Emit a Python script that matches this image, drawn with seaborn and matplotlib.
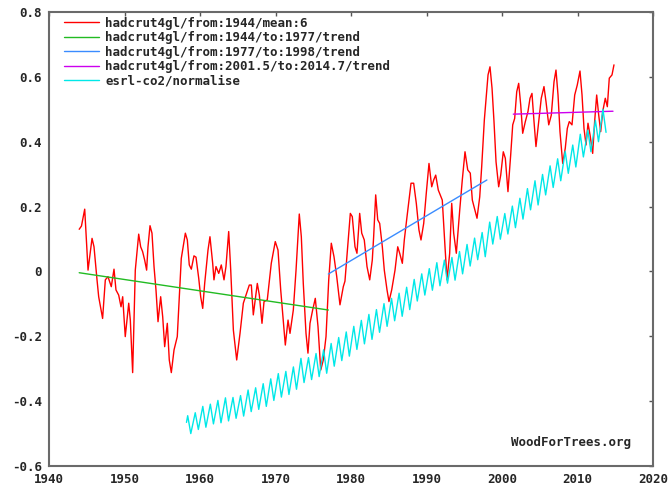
import matplotlib
matplotlib.use("Agg")
import matplotlib.pyplot as plt
import pandas as pd
import seaborn as sns

# hadcrut4gl/from:1944/mean:6 -- turning points
hadcrut_year = [
    1944.0, 1944.3, 1944.73, 1945.17, 1945.7, 1945.96, 1946.36, 1946.58, 1947.1, 1947.46,
    1947.81, 1948.25, 1948.61, 1948.87, 1949.23, 1949.54, 1949.76, 1950.1, 1950.56, 1950.77,
    1951.08, 1951.43, 1951.88, 1952.14, 1952.4, 1952.67, 1952.93, 1953.11, 1953.38, 1953.64,
    1953.91, 1954.17, 1954.44, 1954.79, 1955.06, 1955.32, 1955.67, 1955.93, 1956.2, 1956.56,
    1956.99, 1957.26, 1957.52, 1958.06, 1958.32, 1958.58, 1958.85, 1959.2, 1959.47, 1959.83,
    1960.09, 1960.36, 1960.62, 1961.06, 1961.32, 1961.68, 1961.85, 1962.12, 1962.48, 1962.82,
    1963.18, 1963.44, 1963.8, 1964.07, 1964.42, 1964.86, 1965.3, 1965.74, 1966.09, 1966.53,
    1966.8, 1967.06, 1967.59, 1967.86, 1968.21, 1968.48, 1968.91, 1969.44, 1969.97, 1970.33,
    1970.69, 1971.03, 1971.3, 1971.66, 1971.92, 1972.36, 1972.72, 1973.15, 1973.42, 1973.68,
    1974.04, 1974.3, 1974.57, 1974.92, 1975.27, 1975.63, 1975.99, 1976.33, 1976.69, 1977.05,
    1977.39, 1977.75, 1978.11, 1978.54, 1978.98, 1979.2, 1979.5, 1979.91, 1980.17, 1980.53,
    1980.79, 1981.15, 1981.42, 1981.76, 1982.12, 1982.48, 1982.82, 1983.0, 1983.27, 1983.54,
    1983.8, 1984.15, 1984.41, 1984.77, 1985.03, 1985.39, 1985.83, 1986.19, 1986.45, 1986.8,
    1987.06, 1987.42, 1987.95, 1988.3, 1988.65, 1989.0, 1989.27, 1989.63, 1989.97, 1990.33,
    1990.69, 1990.95, 1991.22, 1991.56, 1992.09, 1992.45, 1992.72, 1993.07, 1993.34, 1993.6,
    1993.95, 1994.4, 1994.74, 1995.1, 1995.46, 1995.8, 1996.07, 1996.42, 1996.69, 1997.05,
    1997.31, 1997.66, 1998.15, 1998.41, 1998.68, 1998.94, 1999.21, 1999.56, 1999.83, 2000.17,
    2000.44, 2000.79, 2001.15, 2001.42, 2001.68, 2001.95, 2002.21, 2002.48, 2002.74, 2003.09,
    2003.44, 2003.71, 2003.97, 2004.24, 2004.5, 2004.86, 2005.2, 2005.56, 2005.83, 2006.19,
    2006.53, 2006.89, 2007.15, 2007.42, 2007.68, 2008.04, 2008.38, 2008.65, 2008.91, 2009.27,
    2009.63, 2009.97, 2010.33, 2010.6, 2010.86, 2011.13, 2011.39, 2011.66, 2012.01, 2012.27,
    2012.54, 2012.81, 2013.07, 2013.34, 2013.68, 2013.95, 2014.21, 2014.57, 2014.83,
]
hadcrut_anom = [
    0.13, 0.14, 0.192, 0.004, 0.102, 0.076, -0.026, -0.078, -0.145, -0.026,
    -0.016, -0.047, 0.007, -0.057, -0.073, -0.109, -0.078, -0.201, -0.098, -0.15,
    -0.312, 0.004, 0.115, 0.076, 0.061, 0.035, 0.004, 0.076, 0.141, 0.118,
    0.015, -0.057, -0.155, -0.078, -0.14, -0.232, -0.16, -0.273, -0.312, -0.242,
    -0.201, -0.078, 0.04, 0.118, 0.097, 0.02, 0.007, 0.048, 0.044, -0.021,
    -0.078, -0.114, -0.037, 0.066, 0.107, 0.025, -0.026, 0.015, -0.006, 0.02,
    -0.026, 0.015, 0.123, 0.004, -0.181, -0.273, -0.191, -0.098, -0.073, -0.042,
    -0.042, -0.134, -0.037, -0.073, -0.16, -0.093, -0.088, 0.025, 0.092, 0.066,
    -0.057, -0.15, -0.227, -0.15, -0.191, -0.119, 0.004, 0.177, 0.107, -0.037,
    -0.191, -0.252, -0.16, -0.119, -0.083, -0.17, -0.304, -0.273, -0.201, -0.026,
    0.087, 0.045, -0.016, -0.103, -0.047, -0.03, 0.06, 0.179, 0.169, 0.076,
    0.056, 0.179, 0.118, 0.097, 0.015, -0.026, 0.035, 0.107, 0.236, 0.159,
    0.148, 0.076, 0.004, -0.057, -0.093, -0.057, 0.004, 0.076, 0.056, 0.025,
    0.097, 0.169, 0.272, 0.272, 0.21, 0.128, 0.097, 0.148, 0.241, 0.333,
    0.261, 0.282, 0.297, 0.251, 0.22, 0.076, -0.026, 0.056, 0.21, 0.118,
    0.056, 0.189, 0.282, 0.369, 0.313, 0.303, 0.22, 0.189, 0.164, 0.23,
    0.323, 0.467, 0.606, 0.631, 0.565, 0.462, 0.338, 0.261, 0.297, 0.369,
    0.349, 0.246, 0.359, 0.452, 0.472, 0.554, 0.58, 0.513, 0.426, 0.462,
    0.493, 0.534, 0.549, 0.462, 0.385, 0.462, 0.534, 0.57, 0.523, 0.452,
    0.482, 0.585, 0.621, 0.544, 0.431, 0.333, 0.38, 0.441, 0.462, 0.452,
    0.544, 0.575, 0.618, 0.544, 0.441, 0.39, 0.457, 0.421, 0.364, 0.462,
    0.544, 0.482, 0.431, 0.493, 0.534, 0.508, 0.596, 0.606, 0.637,
]

# trend segments (start year, end year, start value, end value)
trend_labels = [
    "hadcrut4gl/from:1944/to:1977/trend",
    "hadcrut4gl/from:1977/to:1998/trend",
    "hadcrut4gl/from:2001.5/to:2014.7/trend",
]
trend_x0 = [1944.0, 1977.0, 2001.5]
trend_x1 = [1977.0, 1998.0, 2014.7]
trend_y0 = [-0.004, -0.008, 0.485]
trend_y1 = [-0.119, 0.282, 0.494]
trend_colors = ["#22bb22", "#3a8cff", "#cc00ee"]

# esrl-co2 (ppm): first point, then yearly May peaks and autumn troughs
co2_years = list(range(1958, 2014))
co2_start = (1958.21, 315.7)
co2_may = [
    317.5, 318.3, 320.0, 320.6, 321.6, 322.3, 322.4, 322.9, 324.4, 325.0,
    326.1, 327.4, 328.8, 329.4, 330.6, 332.9, 333.1, 334.2, 335.2, 336.9,
    338.5, 340.0, 341.5, 343.1, 344.7, 346.0, 347.6, 349.0, 350.4, 352.0,
    354.1, 355.6, 357.0, 358.6, 359.3, 360.0, 361.6, 363.5, 365.2, 366.7,
    369.5, 371.0, 371.8, 373.8, 375.9, 378.5, 380.6, 382.3, 384.6, 386.5,
    388.5, 390.2, 393.1, 394.2, 396.8, 399.8,
]
co2_oct = [
    312.7, 313.8, 314.4, 315.3, 315.6, 316.1, 316.8, 317.4, 318.6, 319.2,
    320.0, 321.6, 322.5, 323.2, 324.6, 326.4, 327.2, 328.0, 328.9, 330.8,
    332.3, 333.5, 335.3, 336.8, 338.0, 339.9, 341.5, 343.0, 344.2, 346.0,
    348.3, 349.9, 351.2, 352.4, 353.1, 353.9, 355.6, 357.7, 359.4, 360.2,
    363.6, 364.9, 366.3, 368.0, 370.3, 372.8, 374.1, 376.8, 378.8, 380.6,
    382.6, 384.3, 387.0, 388.4, 391.1, 393.6,
]

x_ticks = [1940, 1950, 1960, 1970, 1980, 1990, 2000, 2010, 2020]
y_ticks = [-0.6, -0.4, -0.2, 0.0, 0.2, 0.4, 0.6, 0.8]
y_tick_labels = ["-0.6", "-0.4", "-0.2", "0", "0.2", "0.4", "0.6", "0.8"]

# build co2 zig-zag and normalise to -0.5..0.5
co2_t = [co2_start[0]]
co2_v = [co2_start[1]]
for yr, hi, lo in zip(co2_years, co2_may, co2_oct):
    co2_t += [yr + 0.37, yr + 0.78]
    co2_v += [hi, lo]
lo_v, hi_v = min(co2_v), max(co2_v)
co2_norm = [(v - lo_v) / (hi_v - lo_v) - 0.5 for v in co2_v]

sns.set_style("white")
plt.rcParams["font.family"] = ["DejaVu Sans Mono"]
plt.rcParams["font.weight"] = "bold"

fig = plt.figure(figsize=(6.7, 4.88), dpi=100)
ax = fig.add_axes([49 / 670, 22 / 488, 604 / 670, 454 / 488])

had = pd.DataFrame({"year": hadcrut_year, "val": hadcrut_anom})
sns.lineplot(data=had, x="year", y="val", ax=ax, color="#ff0000", lw=1.0,
             label="hadcrut4gl/from:1944/mean:6", estimator=None)

for lab, x0, x1, y0, y1, c in zip(trend_labels, trend_x0, trend_x1, trend_y0, trend_y1, trend_colors):
    seg = pd.DataFrame({"year": [x0, x1], "val": [y0, y1]})
    sns.lineplot(data=seg, x="year", y="val", ax=ax, color=c, lw=1.0, label=lab, estimator=None)

co2 = pd.DataFrame({"year": co2_t, "val": co2_norm})
sns.lineplot(data=co2, x="year", y="val", ax=ax, color="#00e8e8", lw=1.0,
             label="esrl-co2/normalise", estimator=None)

ax.set_xlim(1940, 2020)
ax.set_ylim(-0.6, 0.8)
ax.set_xticks(x_ticks)
ax.set_xticklabels([str(t) for t in x_ticks])
ax.set_yticks(y_ticks)
ax.set_yticklabels(y_tick_labels)
ax.set_xlabel("")
ax.set_ylabel("")
ax.tick_params(direction="in", length=3, width=1, color="#555555",
               top=True, right=True, labelsize=9, pad=5)
for sp in ax.spines.values():
    sp.set_color("#6a6a6a")
    sp.set_linewidth(1.5)

ax.legend(loc="upper left", bbox_to_anchor=(0.025, 0.99), frameon=False,
          borderaxespad=0, borderpad=0, handlelength=2.8, handletextpad=0.5,
          labelspacing=0.12, prop={"family": "DejaVu Sans Mono", "weight": "bold", "size": 9})

ax.text(0.964, 0.051, "WoodForTrees.org", transform=ax.transAxes, ha="right", va="center",
        fontsize=9, fontweight="bold")

fig.savefig("out.png", dpi=100)
